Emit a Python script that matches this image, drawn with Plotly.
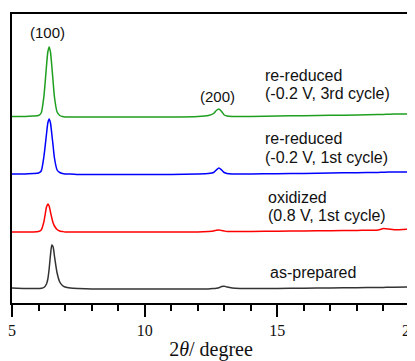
import plotly.graph_objects as go

# 2theta grid (degree)
two_theta = [5.0, 5.5, 5.8, 6.0, 6.1, 6.2, 6.3, 6.35, 6.4, 6.45, 6.5, 6.55, 6.6, 6.7, 6.8, 6.9,
             7.0, 7.2, 7.5, 8.0, 9.0, 10.0, 11.0, 12.0, 12.4, 12.6, 12.7, 12.8, 12.9, 13.0,
             13.1, 13.3, 13.6, 14.0, 15.0, 16.0, 17.0, 18.0, 18.8, 19.0, 19.2, 19.4, 20.0]

# intensities (a.u., stacked with offsets already included)
as_prepared = [15, 14.5, 14.5, 14.5, 14.8, 15.5, 19, 24, 34, 48, 58, 56, 47, 30, 21, 17.5,
               16, 15, 14.5, 14, 14, 14, 14, 14, 14, 14.5, 14.8, 15.3, 16.5, 16.8,
               16, 15, 14.6, 14.5, 14.6, 14.8, 15, 15.3, 15.5, 15.6, 15.7, 15.8, 16]
oxidized = [71, 71, 71, 71.5, 73, 81, 96, 99, 97, 91, 85, 80, 77, 73.5, 72, 71.5,
            71, 71, 71, 71, 71, 71, 71, 71, 71.5, 72, 72.8, 73, 72.5, 72,
            71.5, 71.5, 71.5, 71.5, 71.8, 72, 72.3, 72.6, 73, 74.5, 74, 73.3, 74]
rereduced_1st = [129, 129, 129.5, 130, 132, 146, 169, 180, 184, 180, 169, 157, 145, 133, 130.5, 129.5,
                 129, 129, 128.5, 128.5, 128.5, 128.5, 128.5, 129, 129.5, 130.5, 133, 135, 133, 130.5,
                 129.5, 129, 129, 129, 129.3, 129.6, 130, 130.3, 130.6, 130.8, 131, 131, 131]
rereduced_3rd = [186.5, 186.5, 187, 187.5, 190, 206, 237, 251, 256, 251, 237, 221, 206, 191, 187.5, 186.5,
                 186, 186, 186, 186, 186, 186, 186, 186.5, 187.5, 189.5, 192.5, 194, 191.5, 188,
                 187, 186.5, 186.5, 186.5, 187, 187.3, 187.7, 188, 188.4, 188.6, 188.8, 189, 189]

series_names = ["as-prepared", "oxidized", "re-reduced 1st", "re-reduced 3rd"]
series_values = [as_prepared, oxidized, rereduced_1st, rereduced_3rd]
series_colors = ["#333333", "#ff0000", "#0000ff", "#1f9f1f"]

fig = go.Figure()
for name, vals, col in zip(series_names, series_values, series_colors):
    fig.add_trace(go.Scatter(x=two_theta, y=vals, mode="lines", name=name,
                             line=dict(color=col, width=1.5, shape="spline", smoothing=0.6),
                             showlegend=False))

label_font = dict(family="Liberation Sans, Arial, sans-serif", size=16, color="#111111")
hkl_font = dict(family="Liberation Sans, Arial, sans-serif", size=15, color="#111111")

labels = [
    ("re-reduced", 14.46, 228),
    ("(-0.2 V, 3rd cycle)", 14.46, 210),
    ("re-reduced", 14.46, 165),
    ("(-0.2 V, 1st cycle)", 14.46, 146),
    ("oxidized", 14.57, 106),
    ("(0.8 V, 1st cycle)", 14.57, 88),
    ("as-prepared", 14.65, 31),
]
for text, x, y in labels:
    fig.add_annotation(x=x, y=y, text=text, showarrow=False, xanchor="left",
                       yanchor="middle", font=label_font)

hkl = [("(100)", 6.32, 271), ("(200)", 12.73, 207)]
for text, x, y in hkl:
    fig.add_annotation(x=x, y=y, text=text, showarrow=False, xanchor="center",
                       yanchor="middle", font=hkl_font)

# page body has an 8px margin: figure is sized/offset so the plot box lands at
# x 12..410, y 14..303 of the 415x361 window
fig.update_layout(
    width=407, height=353,
    margin=dict(l=4, r=5, t=6, b=58, autoexpand=False),
    paper_bgcolor="white", plot_bgcolor="white",
    font=dict(family="Liberation Serif, Times New Roman, serif", size=16, color="#111111"),
)
fig.update_xaxes(
    range=[5, 20], tickvals=[5, 10, 15, 20], ticktext=["5", "10", "15", "20"],
    ticks="outside", ticklen=12, tickwidth=2, tickcolor="black",
    ticklabeloverflow="allow",
    minor=dict(dtick=1, ticks="outside", ticklen=6, tickwidth=2, tickcolor="black"),
    showline=True, linewidth=2, linecolor="black", mirror=True,
    showgrid=False, zeroline=False, automargin=False,
    tickfont=dict(family="Liberation Serif, Times New Roman, serif", size=16),
    title=dict(text="2<i>θ</i>/ degree", standoff=6,
               font=dict(family="Liberation Serif, Times New Roman, serif", size=20)),
)
fig.update_yaxes(
    range=[0, 289], showticklabels=False, ticks="",
    showline=True, linewidth=2, linecolor="black", mirror=True,
    showgrid=False, zeroline=False, automargin=False,
)

fig.write_html("out.html")
